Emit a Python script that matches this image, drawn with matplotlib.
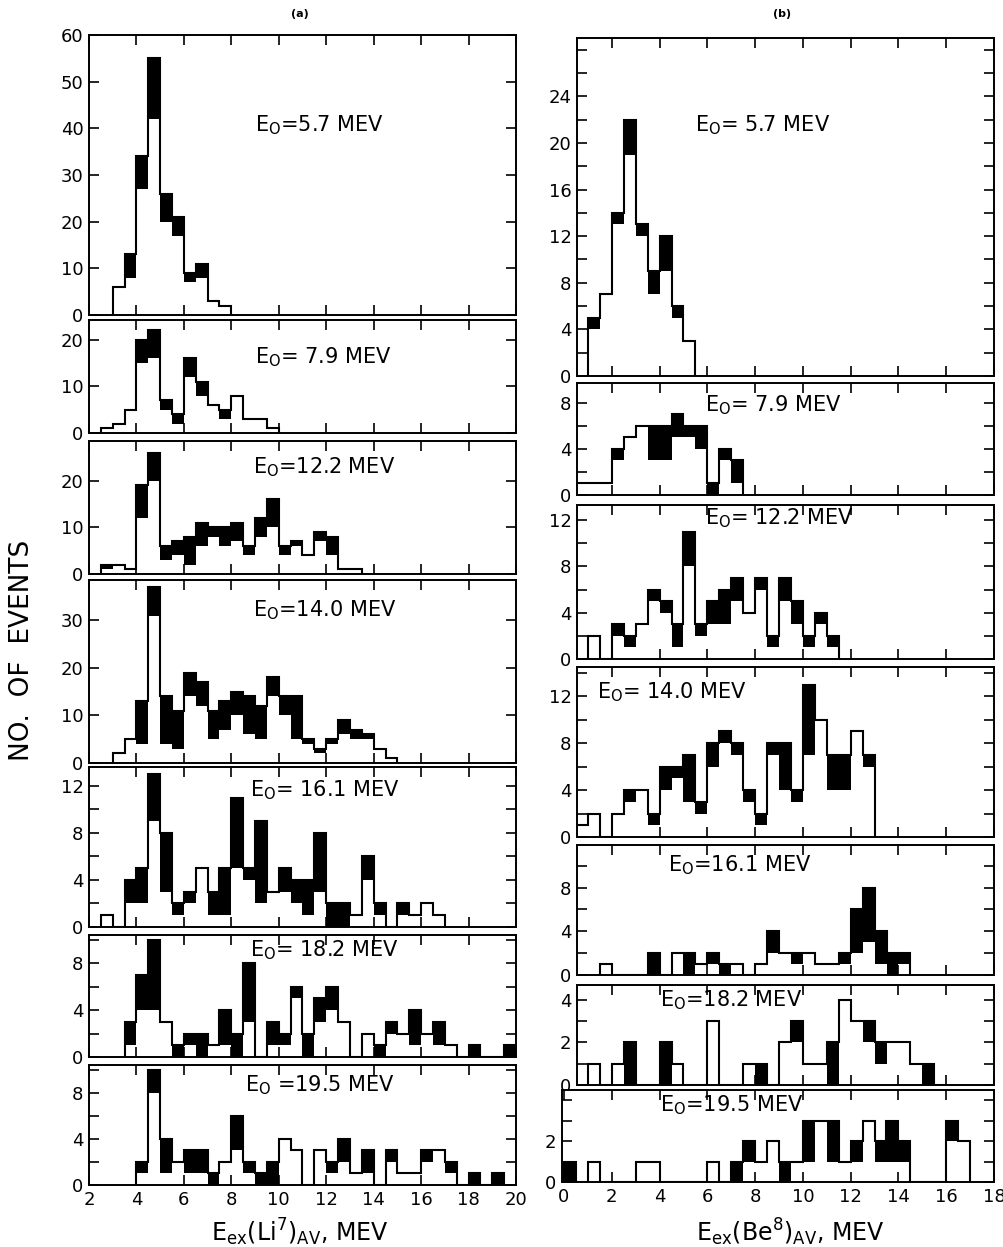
import numpy as np
import matplotlib.pyplot as plt
from matplotlib.ticker import MultipleLocator, FixedLocator

W, H = 1004, 1247

# ---- data: 0.5 MeV bins, first bin edge, open (white) counts, filled (black) counts ----
# (a) Li7 excitation
a1_start = 3.0
a1_white = [6, 8, 27, 42, 20, 17, 7, 8, 3, 2]
a1_black = [0, 5, 7, 13, 6, 4, 2, 3, 0, 0]

a2_start = 2.5
a2_white = [1, 2, 5, 15, 16, 5, 2, 12, 8, 6, 3, 8, 3, 3, 1]
a2_black = [0, 0, 0, 5, 6, 2, 2, 4, 3, 0, 2, 0, 0, 0, 0]

a3_start = 2.5
a3_white = [1, 2, 1, 12, 20, 3, 4, 2, 6, 8, 6, 7, 4, 8, 10, 4, 6, 4, 7, 4, 1, 1]
a3_black = [1, 0, 0, 7, 6, 3, 3, 6, 5, 2, 4, 4, 2, 4, 6, 2, 1, 0, 2, 4, 0, 0]

a4_start = 3.0
a4_white = [2, 5, 4, 31, 4, 3, 14, 12, 5, 7, 10, 6, 5, 14, 10, 5, 4, 2, 4, 6, 5, 5, 3, 1]
a4_black = [0, 0, 9, 6, 10, 8, 5, 5, 6, 6, 5, 8, 7, 4, 4, 9, 1, 1, 1, 3, 2, 1, 0, 0]

a5_start = 2.5
a5_white = [1, 0, 2, 2, 9, 3, 1, 2, 5, 1, 1, 5, 4, 2, 3, 3, 2, 1, 3, 0, 0, 1, 4, 1, 0, 1, 1, 2, 1]
a5_black = [0, 0, 2, 3, 4, 5, 1, 1, 0, 2, 4, 6, 1, 7, 0, 2, 2, 3, 5, 2, 2, 0, 2, 1, 0, 1, 0, 0, 0]

a6_start = 3.5
a6_white = [1, 4, 4, 3, 0, 1, 0, 1, 1, 0, 3, 0, 1, 1, 5, 0, 3, 4, 3, 0, 2, 0, 2, 2, 1, 2, 1, 1, 0, 0, 0, 0, 0]
a6_black = [2, 3, 6, 0, 1, 1, 2, 0, 3, 2, 5, 0, 2, 1, 1, 2, 2, 2, 0, 0, 0, 1, 1, 0, 3, 0, 2, 0, 0, 1, 0, 0, 1]

a7_start = 4.0
a7_white = [1, 8, 1, 2, 1, 1, 0, 2, 3, 1, 0, 0, 4, 3, 0, 3, 1, 2, 1, 1, 0, 2, 1, 1, 2, 3, 1, 0, 0, 0, 0]
a7_black = [1, 2, 3, 0, 2, 2, 1, 0, 3, 1, 1, 2, 0, 0, 0, 0, 1, 2, 0, 2, 0, 1, 0, 0, 1, 0, 1, 0, 1, 0, 1]

# (b) Be8 excitation
b1_start = 1.0
b1_white = [4, 7, 13, 19, 12, 7, 9, 5, 3]
b1_black = [1, 0, 1, 3, 1, 2, 3, 1, 0]

b2_start = 0.5
b2_white = [1, 1, 1, 3, 5, 6, 3, 3, 5, 5, 4, 0, 3, 1]
b2_black = [0, 0, 0, 1, 0, 0, 3, 3, 2, 1, 2, 1, 1, 2]

b3_start = 1.0
b3_white = [2, 0, 2, 1, 3, 5, 4, 1, 8, 2, 3, 3, 5, 4, 6, 1, 5, 3, 1, 3, 1]
b3_black = [0, 0, 1, 1, 0, 1, 1, 2, 3, 1, 2, 3, 2, 0, 1, 1, 2, 2, 1, 1, 1]

b4_start = 0.5
b4_white = [1, 2, 0, 2, 3, 4, 1, 4, 5, 3, 2, 6, 8, 7, 3, 1, 7, 4, 3, 7, 10, 4, 4, 9, 6]
b4_black = [0, 0, 0, 0, 1, 0, 1, 2, 1, 4, 1, 2, 1, 1, 1, 1, 1, 4, 1, 6, 0, 3, 3, 0, 1]

b5_start = 1.5
b5_white = [1, 0, 0, 0, 0, 0, 2, 0, 1, 1, 0, 1, 0, 1, 2, 2, 1, 2, 1, 1, 1, 2, 3, 1, 0, 1]
b5_black = [0, 0, 0, 0, 2, 0, 0, 2, 0, 1, 1, 0, 0, 0, 2, 0, 1, 0, 0, 0, 1, 4, 5, 3, 2, 1]

b6_start = 1.0
b6_white = [1, 0, 1, 0, 0, 0, 0, 1, 0, 0, 3, 0, 0, 1, 0, 0, 2, 2, 1, 1, 0, 4, 3, 2, 1, 2, 2, 1, 0, 0]
b6_black = [0, 0, 0, 2, 0, 0, 2, 0, 0, 0, 0, 0, 0, 0, 1, 0, 0, 1, 0, 0, 2, 0, 0, 1, 1, 0, 0, 0, 1, 0]

b7_start = 0.0
b7_white = [0, 0, 1, 0, 0, 0, 1, 1, 0, 0, 0, 0, 1, 0, 0, 1, 1, 2, 0, 1, 1, 3, 1, 1, 1, 3, 1, 1, 1, 0, 0, 0, 2, 2]
b7_black = [1, 0, 0, 0, 0, 0, 0, 0, 0, 0, 0, 0, 0, 0, 1, 1, 0, 0, 1, 0, 2, 0, 2, 0, 1, 0, 1, 2, 1, 0, 0, 0, 1, 0]

# panel captions as printed
text_a = ["=5.7 MEV", "= 7.9 MEV", "=12.2 MEV", "=14.0 MEV", "= 16.1 MEV", "= 18.2 MEV", " =19.5 MEV"]
text_b = ["= 5.7 MEV", "= 7.9 MEV", "= 12.2 MEV", "= 14.0 MEV", "=16.1 MEV", "=18.2 MEV", "=19.5 MEV"]

fig = plt.figure(figsize=(W / 100, H / 100), dpi=100)
plt.rcParams['font.family'] = 'DejaVu Sans'


def px_axes(left, top, right, bottom):
    return fig.add_axes([left / W, 1 - bottom / H, (right - left) / W, (bottom - top) / H])


def draw_hist(ax, start, white, black):
    white = np.array(white)
    black = np.array(black)
    edges = start + 0.5 * np.arange(len(white) + 1)
    ax.bar(edges[:-1], black, width=0.5, bottom=white, align='edge', color='black', linewidth=0)
    ax.stairs(white + black, edges, color='black', lw=1.5, baseline=0)


def style(ax, xlim, ylim, ylab, ymin, xlabels=False):
    ax.set_xlim(*xlim)
    ax.set_ylim(*ylim)
    ax.xaxis.set_major_locator(MultipleLocator(2))
    ax.yaxis.set_major_locator(FixedLocator(ylab))
    ax.yaxis.set_minor_locator(MultipleLocator(ymin))
    ax.tick_params(which='both', direction='in', top=True, right=True, length=7, width=1.2,
                   labelsize=13, pad=4)
    if not xlabels:
        ax.tick_params(axis='x', labelbottom=False)
    for s in ax.spines.values():
        s.set_linewidth(1.4)


def label(x, y, txt):
    fig.text(x / W, 1 - y / H, r'E$_\mathregular{O}$' + txt, fontsize=15,
             ha='left', va='center')


# left column
L = 89
R = 516
left_panels = [
    (35, 315, 60, [0, 10, 20, 30, 40, 50, 60], 10, a1_start, a1_white, a1_black, (255, 125)),
    (320, 433, 24.2, [0, 10, 20], 10, a2_start, a2_white, a2_black, (255, 357)),
    (441, 574, 28.5, [0, 10, 20], 10, a3_start, a3_white, a3_black, (253, 467)),
    (580, 763, 38.5, [0, 10, 20, 30], 10, a4_start, a4_white, a4_black, (253, 610)),
    (767, 927, 13.6, [0, 4, 8, 12], 2, a5_start, a5_white, a5_black, (250, 790)),
    (935, 1057, 10.4, [0, 4, 8], 2, a6_start, a6_white, a6_black, (250, 950)),
    (1065, 1185, 10.4, [0, 4, 8], 2, a7_start, a7_white, a7_black, (245, 1085)),
]
for i, (top, bot, ytop, ylab, ymin, st, w, b, pos) in enumerate(left_panels):
    ax = px_axes(L, top, R, bot)
    draw_hist(ax, st, w, b)
    style(ax, (2, 20), (0, ytop), ylab, ymin, xlabels=(i == 6))
    label(pos[0], pos[1], text_a[i])

# right column
right_panels = [
    (577, 38, 376, 29, [0, 4, 8, 12, 16, 20, 24], 2, b1_start, b1_white, b1_black, (695, 125)),
    (577, 383, 495, 9.7, [0, 4, 8], 2, b2_start, b2_white, b2_black, (705, 405)),
    (577, 505, 659, 13.3, [0, 4, 8, 12], 2, b3_start, b3_white, b3_black, (705, 518)),
    (577, 667, 837, 14.5, [0, 4, 8, 12], 2, b4_start, b4_white, b4_black, (597, 692)),
    (577, 845, 975, 11.9, [0, 4, 8], 2, b5_start, b5_white, b5_black, (668, 865)),
    (577, 985, 1085, 4.7, [0, 2, 4], 1, b6_start, b6_white, b6_black, (660, 1000)),
    (562, 1090, 1182, 4.5, [0, 2], 1, b7_start, b7_white, b7_black, (660, 1105)),
]
for i, (lft, top, bot, ytop, ylab, ymin, st, w, b, pos) in enumerate(right_panels):
    ax = px_axes(lft, top, 994, bot)
    x0 = (lft - 564) / 23.9
    draw_hist(ax, st, w, b)
    style(ax, (x0, 18), (0, ytop), ylab, ymin, xlabels=(i == 6))
    label(pos[0], pos[1], text_b[i])

fig.text(300 / W, 1 - 14 / H, '(a)', fontsize=8, ha='center', va='center', fontweight='bold')
fig.text(782 / W, 1 - 14 / H, '(b)', fontsize=8, ha='center', va='center', fontweight='bold')
fig.text(22 / W, 1 - 650 / H, 'NO.  OF  EVENTS', fontsize=19, rotation=90, ha='center', va='center')
fig.text(300 / W, 1 - 1232 / H, r'$\mathregular{E_{ex}(Li^{7})_{AV}}$, MEV', fontsize=17,
         ha='center', va='center')
fig.text(790 / W, 1 - 1232 / H, r'$\mathregular{E_{ex}(Be^{8})_{AV}}$, MEV', fontsize=17,
         ha='center', va='center')

fig.savefig('out.png', dpi=100)
